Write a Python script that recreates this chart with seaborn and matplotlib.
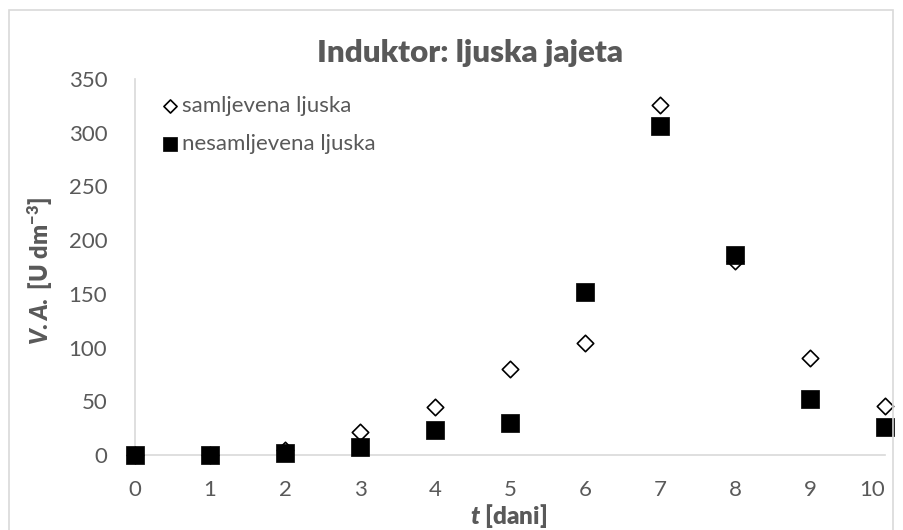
import matplotlib
matplotlib.use("Agg")
import matplotlib.pyplot as plt
import seaborn as sns
import pandas as pd
from matplotlib.patches import Rectangle

# podaci ocitani s grafa
dani = [0, 1, 2, 3, 4, 5, 6, 7, 8, 9, 10]
samljevena = [0, 0, 5, 21, 45, 80, 104, 326, 181, 90, 46]
nesamljevena = [0, 0, 2, 7, 23, 30, 152, 306, 186, 52, 26]
y_ticks = [0, 50, 100, 150, 200, 250, 300, 350]

GRAY = "#595959"
LINE = "#d9d9d9"

sns.set_theme(style="white")
plt.rcParams["font.family"] = ["Lato", "DejaVu Sans"]
plt.rcParams["mathtext.fontset"] = "custom"
plt.rcParams["mathtext.rm"] = "Lato:heavy"
plt.rcParams["mathtext.it"] = "Lato:heavy:italic"
plt.rcParams["mathtext.bf"] = "Lato:heavy"

df = pd.DataFrame({"dan": dani, "samljevena": samljevena, "nesamljevena": nesamljevena})

fig = plt.figure(figsize=(9.04, 5.30), dpi=100)
ax = fig.add_axes([135 / 904, 1 - 455 / 530, 750 / 904, 376 / 530])

sns.scatterplot(data=df, x="dan", y="samljevena", marker="D", s=70,
                facecolor="white", edgecolor="black", linewidth=1.2,
                label="samljevena ljuska", ax=ax, clip_on=False, zorder=3)
sns.scatterplot(data=df, x="dan", y="nesamljevena", marker="s", s=160,
                color="black", edgecolor="black", linewidth=0.5,
                label="nesamljevena ljuska", ax=ax, clip_on=False, zorder=4)

ax.set_xlim(0, 10)
ax.set_ylim(0, 350)
ax.set_xticks(dani)
ax.set_yticks(y_ticks)
ax.tick_params(axis="both", length=0, labelsize=16, labelcolor=GRAY)
ax.tick_params(axis="x", pad=18)
ax.tick_params(axis="y", pad=20)
ax.get_xticklabels()[-1].set_ha("right")
ax.set_xlabel("")
ax.set_ylabel("")
ax.grid(False)
for side in ["top", "right"]:
    ax.spines[side].set_visible(False)
for side in ["left", "bottom"]:
    ax.spines[side].set_color(LINE)
    ax.spines[side].set_linewidth(1.2)

leg = ax.legend(loc="upper left", bbox_to_anchor=(152 / 904, 1 - 85 / 530),
                bbox_transform=fig.transFigure, frameon=False, fontsize=16,
                handlelength=0.65, handletextpad=0.2, labelspacing=0.8,
                borderpad=0, markerscale=0.8)
for t in leg.get_texts():
    t.set_color(GRAY)

fig.text(470 / 904, 1 - 62 / 530, "Induktor: ljuska jajeta", ha="center",
         va="baseline", fontsize=22.5, fontweight="heavy", color=GRAY)
fig.text(40 / 904, 1 - 271 / 530, r"$V.A.$ [U dm$^{\mathrm{-3}}$]", rotation=90,
         ha="center", va="center", fontsize=17, fontweight="heavy", color=GRAY)
fig.text(509 / 904, 1 - 516 / 530, r"$t$ [dani]", ha="center", va="center",
         fontsize=17.5, fontweight="heavy", color=GRAY)

# okvir grafa
fig.patches.append(Rectangle((9 / 904, -0.05), 884 / 904, 1.05 - 10 / 530,
                             transform=fig.transFigure, fill=False,
                             edgecolor=LINE, linewidth=1.2))

fig.savefig("out.png", dpi=100)
